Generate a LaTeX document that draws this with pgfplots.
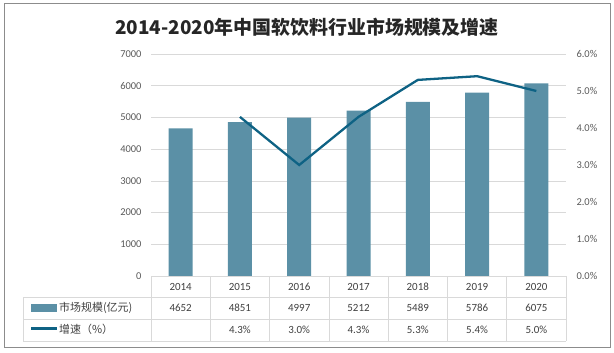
\documentclass[border=0pt]{standalone}
\usepackage{fontspec}
\setmainfont{Carlito}
\newfontfamily\cjk{Noto Sans CJK SC}
\usepackage{pgfplots}
\pgfplotsset{compat=1.18}
\definecolor{barc}{RGB}{91,144,166}
\definecolor{linec}{RGB}{14,98,132}
\definecolor{txt}{RGB}{89,89,89}
\definecolor{tabtxt}{RGB}{64,64,64}
\definecolor{gridc}{RGB}{217,217,217}
\begin{document}
\begin{tikzpicture}[x=1bp,y=1bp]
\path (0,0) rectangle (614,352);
\draw[black!45, line width=0.8bp] (4,5) rectangle (610,349);
\node[font=\cjk\bfseries\fontsize{19}{22}\selectfont, text=black!85] at (307,325) {2014-2020年中国软饮料行业市场规模及增速};
\begin{axis}[at={(151bp,76bp)}, anchor=south west, scale only axis,
  width=415bp, height=222bp, xmin=-0.5, xmax=6.5, ymin=0, ymax=7000,
  ytick={0,1000,...,7000}, xtick=\empty,
  axis line style={draw=none}, tick style={draw=none},
  ymajorgrids, grid style={gridc, line width=0.6bp},
  /pgf/number format/assume math mode=true,
  /pgf/number format/1000 sep={},
  yticklabel style={font=\fontsize{10.5}{12}\selectfont, text=txt, xshift=-6bp},
  clip=false]
\addplot[ybar, fill=barc, draw=none, bar width=24bp] coordinates {
(0,4652) (1,4851) (2,4997) (3,5212) (4,5489) (5,5786) (6,6075)};
\end{axis}
\begin{axis}[at={(151bp,76bp)}, anchor=south west, scale only axis,
  width=415bp, height=222bp, xmin=-0.5, xmax=6.5, ymin=0, ymax=6,
  ytick={0,1,...,6}, xtick=\empty, axis y line*=right,
  axis line style={draw=none}, tick style={draw=none},
  /pgf/number format/assume math mode=true,
  yticklabel={\pgfmathprintnumber[fixed,fixed zerofill,precision=1]{\tick}\%},
  yticklabel style={font=\fontsize{10.5}{12}\selectfont, text=txt, xshift=7bp},
  clip=false]
\addplot[linec, line width=2.3bp, mark=none] coordinates {
(1,4.3) (2,3.0) (3,4.3) (4,5.3) (5,5.4) (6,5.0)};
\end{axis}
% data table
\begin{scope}[gridc, line width=0.6bp]
\draw (151,76) -- (566,76);
\draw (23,55) -- (566,55);
\draw (23,33) -- (566,33);
\draw (23,11) -- (566,11);
\draw (23,55) -- (23,11);
\foreach \k in {0,...,7} {\draw ({151+\k*59.2857},76) -- ({151+\k*59.2857},11);}
\end{scope}
\foreach \yr [count=\i from 0] in {2014,2015,2016,2017,2018,2019,2020}
  \node[font=\fontsize{11}{13}\selectfont, text=tabtxt] at ({151+(\i+0.5)*59.2857},65.5) {\yr};
\foreach \v [count=\i from 0] in {4652,4851,4997,5212,5489,5786,6075}
  \node[font=\fontsize{11}{13}\selectfont, text=tabtxt] at ({151+(\i+0.5)*59.2857},44) {\v};
\foreach \v [count=\i from 1] in {4.3,3.0,4.3,5.3,5.4,5.0}
  \node[font=\fontsize{11}{13}\selectfont, text=tabtxt] at ({151+(\i+0.5)*59.2857},22) {\v\%};
\fill[barc] (31,40.5) rectangle (57,48.5);
\draw[linec, line width=2.5bp] (31,23.5) -- (57,23.5);
\node[anchor=west, font=\cjk\fontsize{11}{13}\selectfont, text=tabtxt, inner sep=0] at (59,44) {市场规模(亿元)};
\node[anchor=west, font=\cjk\fontsize{11}{13}\selectfont, text=tabtxt, inner sep=0] at (59,22.5) {增速（\%）};
\end{tikzpicture}
\end{document}
